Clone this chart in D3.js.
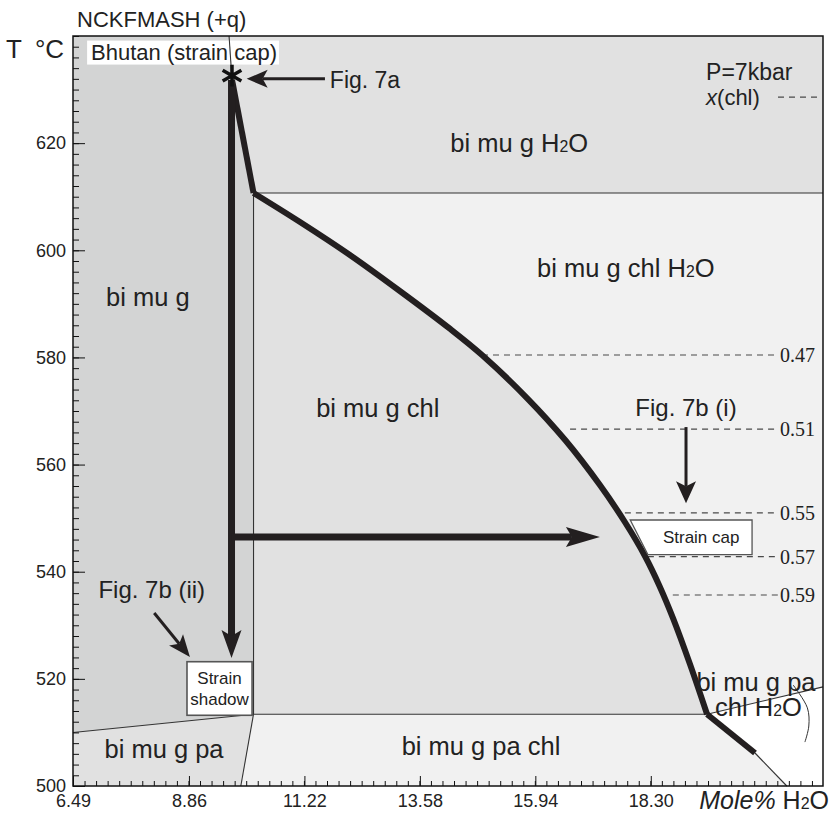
<!DOCTYPE html>
<html>
<head>
<meta charset="utf-8">
<script src="https://cdn.jsdelivr.net/npm/d3@7"></script>
<style>
body { margin: 0; background: #fff; }
svg { font-family: "Liberation Sans", Arial, sans-serif; }
</style>
</head>
<body>
<svg width="839" height="818"></svg>
<script>
// tick labels
const xTicks = [6.49, 8.86, 11.22, 13.58, 15.94, 18.30];
const yTicks = [500, 520, 540, 560, 580, 600, 620];

// phase boundaries, [Mole% H2O, T]
const topBound = [[9.68, 640], [9.74, 631.8]];
const steepLine = [[9.74, 631.8], [10.18, 610.7]];
const chlOut = [[10.18, 610.7], [11.13, 605.28], [12.15, 599.12], [13.17, 592.4], [14.20, 585.31],
  [14.85, 580.45], [15.77, 572.42], [16.55, 564.58], [17.26, 556.18], [17.77, 549.28],
  [18.18, 542.93], [18.48, 537.3], [18.76, 531.2], [19.10, 522.77], [19.45, 513.4]];
const tailThick = [[19.45, 513.4], [20.43, 506.16]];
const tailThin = [[20.43, 506.16], [21.08, 500]];
const muOut = [[10.18, 610.7], [10.18, 513.4]];
const h2oIn = [[10.18, 610.7], [21.82, 610.7]];
const paIn = [[10.18, 513.4], [19.45, 513.4]];
const paLeft = [[6.49, 510], [10.18, 513.4]];
const paLow = [[10.18, 513.4], [9.92, 500]];
const paRight = [[19.45, 513.4], [21.82, 518.5]];
const leader = [[21.21, 518.85], [21.5, 514.6], [21.53, 511.2], [21.45, 508.2]];

// x(chl) isopleths
const chlVals = ["0.47", "0.51", "0.55", "0.57", "0.59"];
const chlT = [580.45, 566.6, 551.0, 542.8, 535.65];
const chlFrom = [14.85, 16.65, 17.77, 18.24, 18.75];
const chlTo = 20.9;

// field labels
const fields = [
  {t: "bi mu g", x: 8.02, T: 591.3},
  {t: "bi mu g H2O", x: 15.61, T: 620.0},
  {t: "bi mu g chl H2O", x: 17.79, T: 596.7},
  {t: "bi mu g chl", x: 12.72, T: 570.6},
  {t: "bi mu g pa", x: 8.35, T: 506.9},
  {t: "bi mu g pa chl", x: 14.83, T: 507.5},
  {t: "bi mu g pa", x: 20.45, T: 519.4},
  {t: "chl H2O", x: 20.5, T: 514.7}
];

const svg = d3.select("svg");
const x = d3.scaleLinear().domain([6.49, 21.82]).range([73, 823]);
const y = d3.scaleLinear().domain([500, 640]).range([786, 36]);
const line = d3.line().x(d => x(d[0])).y(d => y(d[1]));
const smooth = d3.line().x(d => x(d[0])).y(d => y(d[1])).curve(d3.curveCatmullRom.alpha(0.5));

const dark = "#d3d4d4", mid = "#e1e1e1", light = "#f1f1f1", ink = "#231f20";

// fields
const polys = [
  [dark, line([[6.49, 640], [9.68, 640], [9.74, 631.8], [10.18, 610.7], [10.18, 513.4], [6.49, 510]])],
  [mid, line([[6.49, 510], [10.18, 513.4], [9.92, 500], [6.49, 500]])],
  [mid, line([[9.68, 640], [21.82, 640], [21.82, 610.7], [10.18, 610.7], [9.74, 631.8]])],
  [mid, smooth(chlOut) + "L" + x(10.18) + "," + y(513.4)],
  [light, smooth(chlOut) + "L" + x(21.82) + "," + y(518.5) + "L" + x(21.82) + "," + y(610.7)],
  [light, line([[10.18, 513.4], [19.45, 513.4], [20.43, 506.16], [21.08, 500], [9.92, 500]])],
  ["#ffffff", line([[19.45, 513.4], [21.82, 518.5], [21.82, 500], [21.08, 500], [20.43, 506.16]])]
];
svg.append("g").selectAll("path").data(polys).join("path")
  .attr("fill", d => d[0])
  .attr("d", d => d[1] + "Z");

// isopleths
const iso = svg.append("g");
chlVals.forEach((v, i) => {
  iso.append("line")
    .attr("x1", x(chlFrom[i])).attr("x2", x(chlTo))
    .attr("y1", y(chlT[i])).attr("y2", y(chlT[i]))
    .attr("stroke", "#4a4a4a").attr("stroke-width", 1.2).attr("stroke-dasharray", "6,5");
  iso.append("text")
    .attr("x", x(chlTo) + 2).attr("y", y(chlT[i]))
    .attr("dy", "0.35em")
    .attr("font-family", "Liberation Serif, Times New Roman, serif")
    .attr("font-size", 20)
    .attr("fill", "#222")
    .text(v);
});

// Bhutan label box
const bh = svg.append("g");
const bhText = bh.append("text")
  .attr("x", x(6.86)).attr("y", y(635.6))
  .attr("font-size", 22).attr("fill", "#222")
  .text("Bhutan (strain cap)");
const bb = bhText.node().getBBox();
bh.insert("rect", "text")
  .attr("x", bb.x - 4).attr("y", bb.y + 1)
  .attr("width", bb.width + 6).attr("height", bb.height - 1)
  .attr("fill", "#fff");

// thin boundaries
[topBound, muOut, h2oIn, paIn, paLeft, paLow, paRight, tailThin].forEach(d => {
  svg.append("path").attr("d", line(d))
    .attr("fill", "none").attr("stroke", "#333").attr("stroke-width", 1.1);
});
svg.append("path").attr("d", smooth(leader))
  .attr("fill", "none").attr("stroke", "#333").attr("stroke-width", 1);

// thick boundaries
[line(steepLine), smooth(chlOut), line(tailThick)].forEach(d => {
  svg.append("path").attr("d", d)
    .attr("fill", "none").attr("stroke", ink).attr("stroke-width", 6)
    .attr("stroke-linejoin", "round");
});

function arrow(p0, p1, w, len, hw, notch) {
  const x0 = x(p0[0]), y0 = y(p0[1]), x1 = x(p1[0]), y1 = y(p1[1]);
  const a = Math.atan2(y1 - y0, x1 - x0);
  const back = len - notch;
  svg.append("line")
    .attr("x1", x0).attr("y1", y0)
    .attr("x2", x1 - back * Math.cos(a)).attr("y2", y1 - back * Math.sin(a))
    .attr("stroke", ink).attr("stroke-width", w);
  svg.append("path")
    .attr("d", `M0,0L${-len},${-hw / 2}L${-back},0L${-len},${hw / 2}Z`)
    .attr("transform", `translate(${x1},${y1}) rotate(${a * 180 / Math.PI})`)
    .attr("fill", ink);
}

// P-T path arrows
arrow([9.73, 631.8], [9.73, 523.9], 7, 28, 20, 6);
arrow([9.73, 546.5], [17.26, 546.5], 7, 34, 20, 6);
// figure pointers
arrow([11.64, 632.0], [10.04, 632.0], 3, 21, 18, 5);
arrow([19.02, 567.0], [19.02, 552.8], 3, 22, 20, 5);
arrow([8.15, 532.3], [8.88, 524.1], 3, 22, 18, 5);

// asterisk
svg.append("path")
  .attr("d", d3.symbol(d3.symbolAsterisk, 330)())
  .attr("transform", `translate(${x(9.74)},${y(632.6)})`)
  .attr("stroke", "#111").attr("stroke-width", 3.5).attr("fill", "none");

// sample boxes
svg.append("path")
  .attr("d", line([[17.88, 549.65], [20.37, 549.65], [20.37, 543.2], [18.24, 543.2]]) + "Z")
  .attr("fill", "#fff").attr("stroke", "#555").attr("stroke-width", 1.3);
svg.append("text").attr("x", x(19.33)).attr("y", y(546.4)).attr("dy", "0.35em")
  .attr("text-anchor", "middle").attr("font-size", 17).attr("fill", "#222").text("Strain cap");
svg.append("rect")
  .attr("x", x(8.82)).attr("y", y(523.2))
  .attr("width", x(10.15) - x(8.82)).attr("height", y(513.2) - y(523.2))
  .attr("fill", "#fff").attr("stroke", "#555").attr("stroke-width", 1.6);
svg.append("text").attr("x", x(9.485)).attr("y", y(520.1)).attr("dy", "0.35em")
  .attr("text-anchor", "middle").attr("font-size", 17).attr("fill", "#222").text("Strain");
svg.append("text").attr("x", x(9.485)).attr("y", y(516.2)).attr("dy", "0.35em")
  .attr("text-anchor", "middle").attr("font-size", 17).attr("fill", "#222").text("shadow");

function label(g, str, px, py, size, anchor) {
  const t = g.append("text").attr("x", px).attr("y", py).attr("dy", "0.35em")
    .attr("text-anchor", anchor || "middle").attr("font-size", size).attr("fill", "#222");
  const parts = str.split("H2O");
  parts.forEach((p, i) => {
    t.append("tspan").text(p);
    if (i < parts.length - 1) {
      t.append("tspan").text("H");
      t.append("tspan").attr("font-size", size * 0.62).text("2");
      t.append("tspan").text("O");
    }
  });
  return t;
}

const lab = svg.append("g");
fields.forEach(f => label(lab, f.t, x(f.x), y(f.T), 25.5));
label(lab, "Fig. 7a", x(11.74), y(631.8), 23, "start");
label(lab, "Fig. 7b (i)", x(19.02), y(570.7), 24);
label(lab, "Fig. 7b (ii)", x(8.10), y(536.6), 24);
label(lab, "P=7kbar", x(19.43), y(633.3), 23, "start");
const xc = lab.append("text").attr("x", x(19.43)).attr("y", y(628.6)).attr("dy", "0.35em")
  .attr("font-size", 22).attr("fill", "#222");
xc.append("tspan").attr("font-style", "italic").text("x");
xc.append("tspan").text("(chl)");
lab.append("line")
  .attr("x1", x(20.9)).attr("x2", x(21.71)).attr("y1", y(628.6)).attr("y2", y(628.6))
  .attr("stroke", "#4a4a4a").attr("stroke-width", 1.2).attr("stroke-dasharray", "6,5");

// axes
const xMinor = d3.range(0, 66).map(i => 6.49 + i * 0.236).filter(v => v < 21.8);
const yMinor = d3.range(500, 641, 2);
function styleAxis(g) {
  g.select(".domain").remove();
  g.selectAll("line").attr("stroke", "#111");
  g.selectAll("text").attr("font-size", 18).attr("font-family", "Liberation Sans, Arial, sans-serif").attr("fill", "#222");
}
svg.append("g").attr("transform", `translate(0,${y(500)})`)
  .call(d3.axisBottom(x).tickValues(xMinor).tickSize(-5).tickFormat(""))
  .call(styleAxis);
svg.append("g").attr("transform", `translate(0,${y(500)})`)
  .call(d3.axisBottom(x).tickValues(xTicks).tickSize(-10).tickPadding(8).tickFormat(d3.format(".2f")))
  .call(styleAxis);
svg.append("g").attr("transform", `translate(${x(6.49)},0)`)
  .call(d3.axisLeft(y).tickValues(yMinor).tickSize(-6).tickFormat(""))
  .call(styleAxis);
svg.append("g").attr("transform", `translate(${x(6.49)},0)`)
  .call(d3.axisLeft(y).tickValues(yTicks).tickSize(-12).tickPadding(7))
  .call(styleAxis);

svg.append("rect")
  .attr("x", x(6.49)).attr("y", y(640))
  .attr("width", x(21.82) - x(6.49)).attr("height", y(500) - y(640))
  .attr("fill", "none").attr("stroke", "#111").attr("stroke-width", 1.5);

// titles
svg.append("text").attr("x", x(6.49) + 4).attr("y", 27)
  .attr("font-size", 22).attr("fill", "#222").text("NCKFMASH (+q)");
svg.append("text").attr("x", 6).attr("y", 58)
  .attr("font-size", 26).attr("fill", "#222").text("T\u2002\u00b0C");
const xl = svg.append("text").attr("x", x(21.82) + 6).attr("y", y(500) + 23)
  .attr("text-anchor", "end").attr("font-size", 25).attr("fill", "#222");
xl.append("tspan").attr("font-style", "italic").text("Mole%");
xl.append("tspan").text(" H");
xl.append("tspan").attr("font-size", 16).text("2");
xl.append("tspan").text("O");
</script>
</body>
</html>
